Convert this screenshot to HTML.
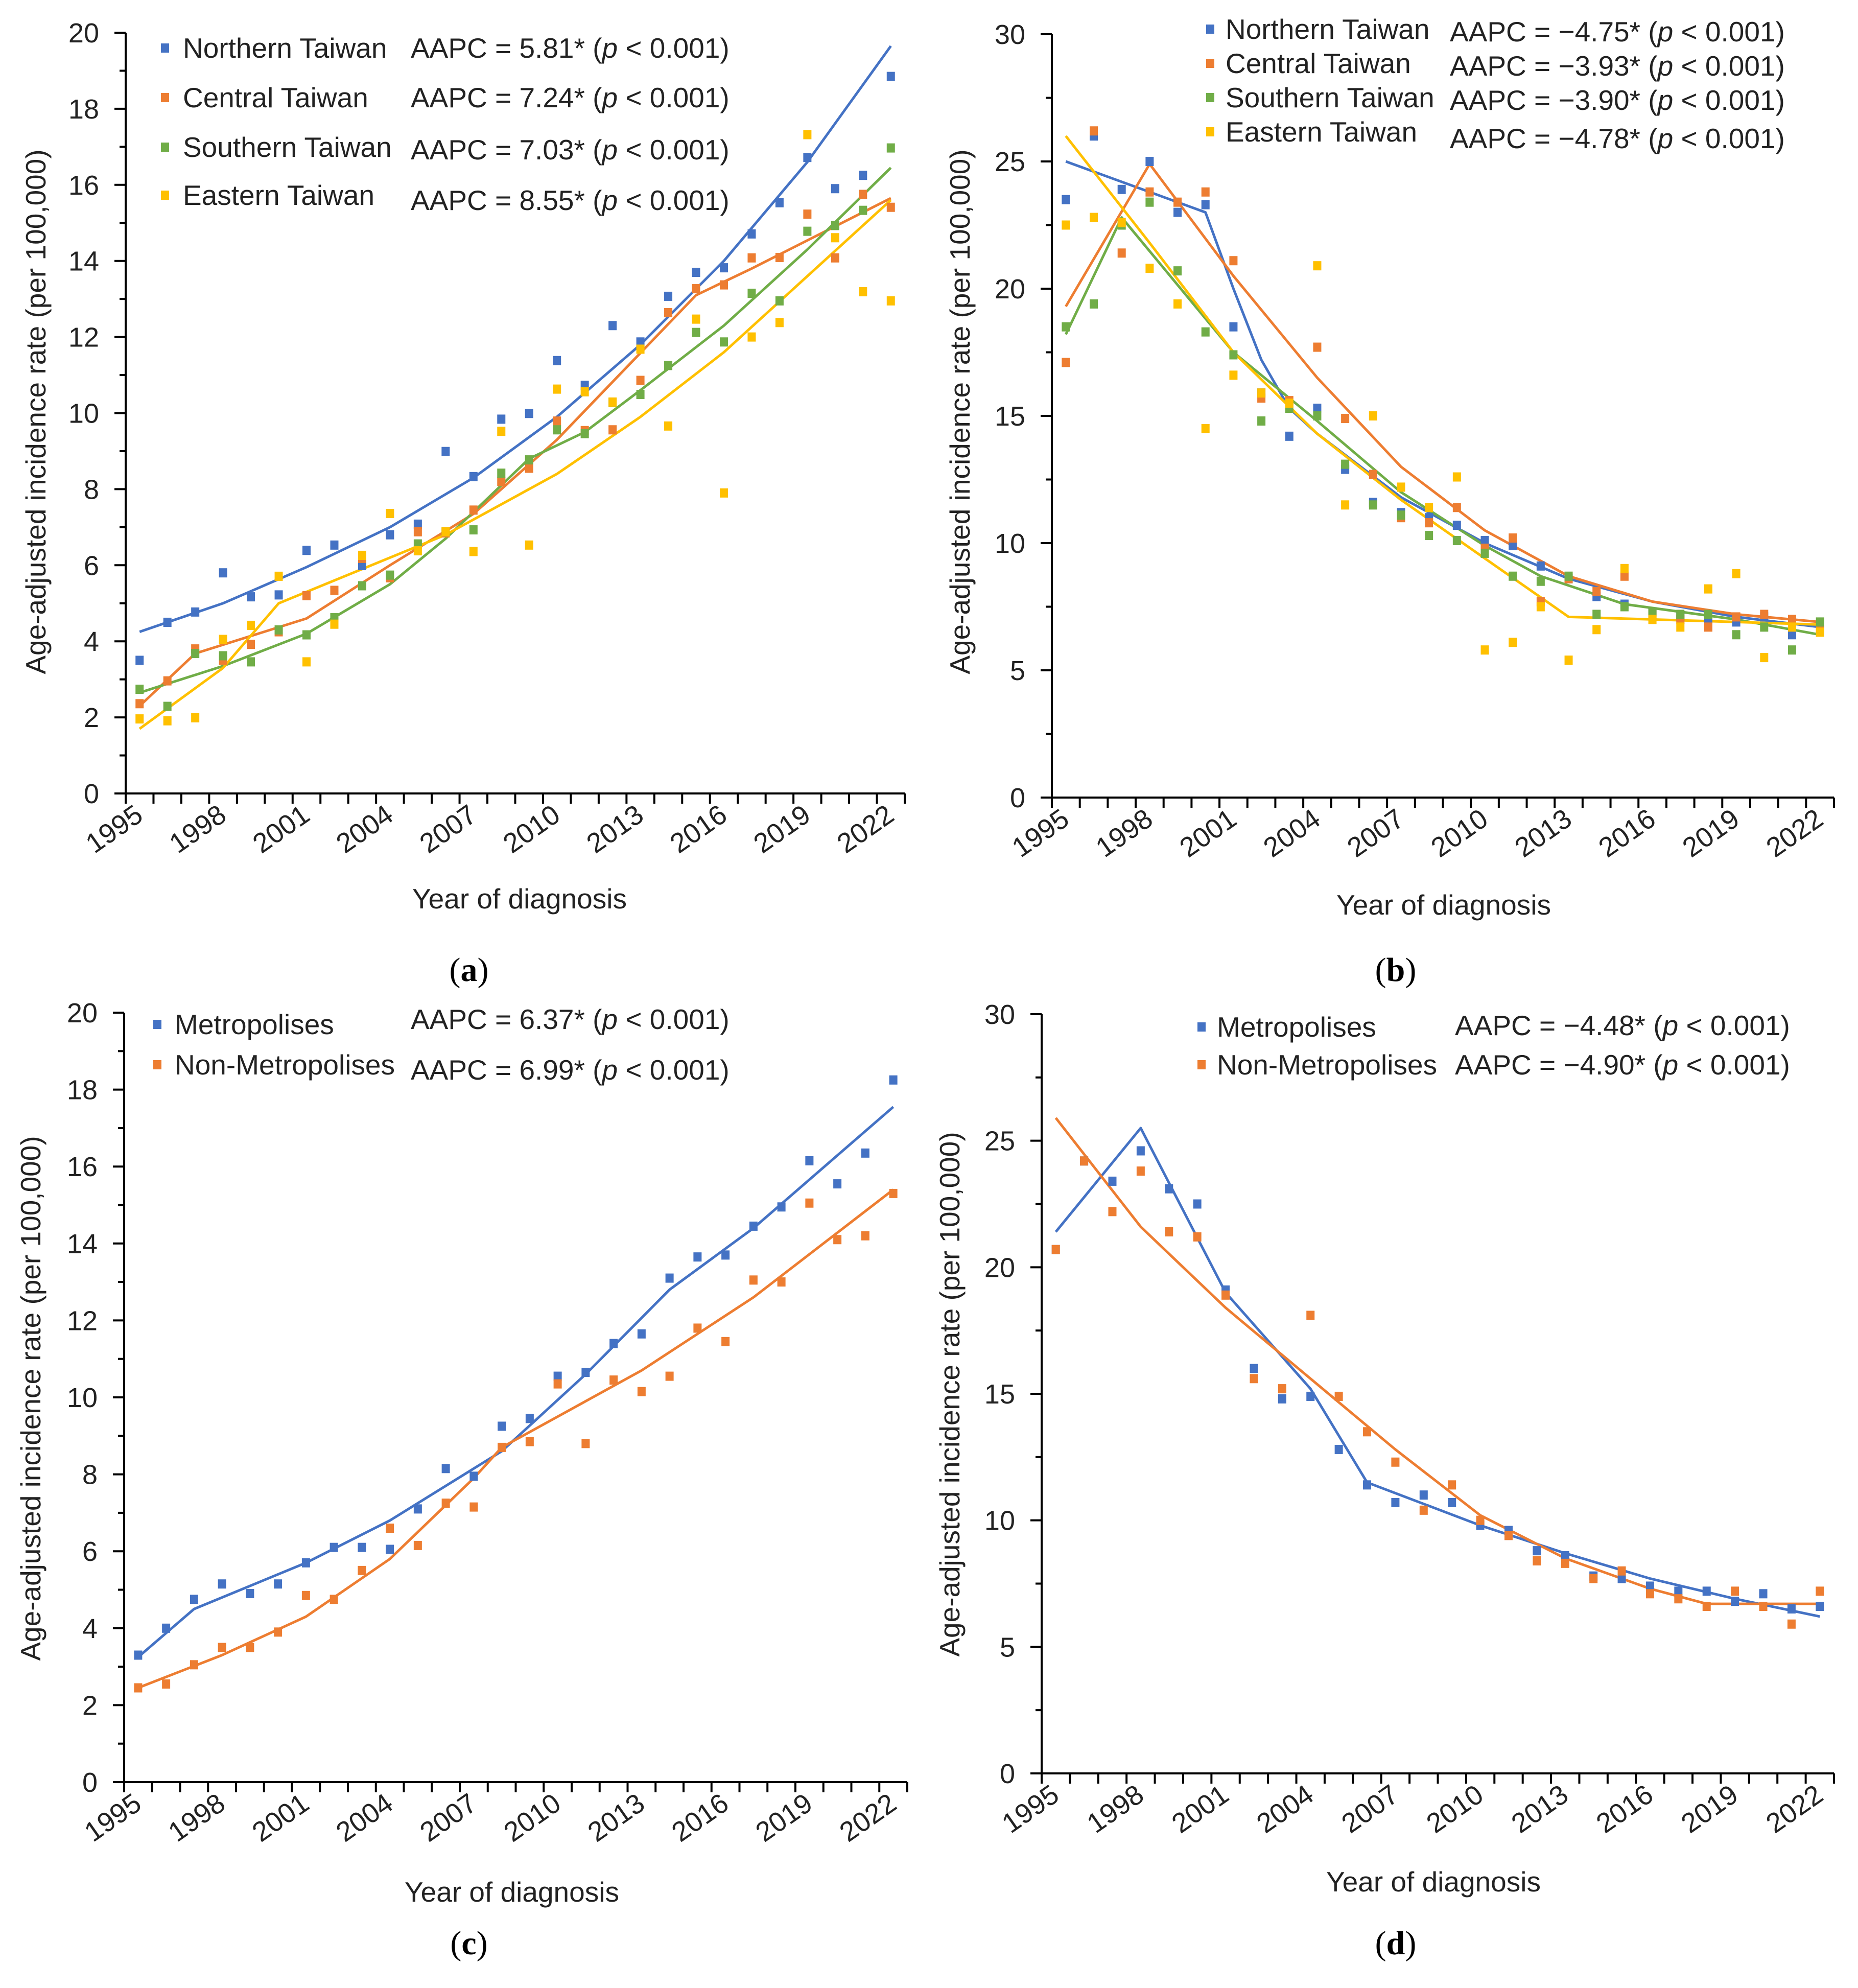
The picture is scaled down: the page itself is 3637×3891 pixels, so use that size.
<!DOCTYPE html>
<html><head><meta charset="utf-8"><style>
html,body{margin:0;padding:0;background:#fff;}
svg{display:block;font-family:"Liberation Sans",sans-serif;}
</style></head><body>
<svg id="chart" width="3637" height="3891" viewBox="0 0 3637 3891" xmlns="http://www.w3.org/2000/svg"></svg>
<script>
const years=[];for(let y=1995;y<=2022;y++)years.push(y);
const yearTickLabels=['1995','1998','2001','2004','2007','2010','2013','2016','2019','2022'];
// Panel a
const aNorth=[3.5,4.5,4.77,5.8,5.17,5.22,6.39,6.53,5.99,6.8,7.08,8.99,8.33,9.84,9.99,11.38,10.73,12.3,11.87,13.07,13.7,13.82,14.71,15.53,16.72,15.9,16.25,18.85];
const aCentral=[2.36,2.96,3.8,3.5,3.92,4.25,5.2,5.34,6.18,5.67,6.88,6.85,7.45,8.2,8.55,9.79,9.54,9.56,10.86,12.64,13.27,13.37,14.08,14.09,15.23,14.08,15.75,15.41];
const aSouth=[2.74,2.29,3.68,3.62,3.46,4.3,4.17,4.62,5.46,5.74,6.56,6.88,6.93,8.42,8.77,9.56,9.46,10.28,10.49,11.25,12.12,11.87,13.15,12.95,14.78,14.93,15.33,16.97];
const aEast=[1.96,1.91,1.99,4.05,4.42,5.71,3.46,4.45,6.26,7.36,6.38,6.88,6.36,9.52,6.53,10.63,10.56,10.29,11.68,9.66,12.47,7.9,12.0,12.38,17.32,14.61,13.19,12.95];
const aNorthFitYears=[1995,1998,2001,2004,2007,2010,2013,2016,2019,2022];
const aNorthFit=[4.25,5.0,5.95,7.0,8.3,9.9,11.8,14.0,16.6,19.65];
const aCentralFitYears=[1995,1997,2001,2004,2007,2010,2015,2017,2022];
const aCentralFit=[2.3,3.68,4.6,6.0,7.35,9.3,13.1,13.8,15.65];
const aSouthFitYears=[1995,1998,2001,2004,2006,2009,2011,2013,2016,2019,2022];
const aSouthFit=[2.65,3.35,4.2,5.5,6.7,8.8,9.5,10.6,12.3,14.3,16.45];
const aEastFitYears=[1995,1998,2000,2004,2006,2010,2013,2016,2019,2022];
const aEastFit=[1.7,3.3,5.0,6.2,6.8,8.4,9.9,11.6,13.6,15.6];
// Panel b
const bNorth=[23.5,26.0,23.9,25.0,23.0,23.3,18.5,15.9,14.2,15.3,12.9,11.6,11.2,11.0,10.7,10.1,9.9,9.1,8.6,7.9,7.6,7.3,7.1,7.0,6.9,7.1,6.4,6.6];
const bCentral=[17.1,26.2,21.4,23.8,23.4,23.8,21.1,15.7,15.6,17.7,14.9,12.7,11.0,10.8,11.4,9.8,10.2,7.7,8.6,8.1,8.7,7.2,7.0,6.7,7.1,7.2,7.0,6.6];
const bSouth=[18.5,19.4,22.5,23.4,20.7,18.3,17.4,14.8,15.3,15.0,13.1,11.5,11.1,10.3,10.1,9.6,8.7,8.5,8.7,7.2,7.5,7.3,7.2,7.2,6.4,6.7,5.8,6.9];
const bEast=[22.5,22.8,22.6,20.8,19.4,14.5,16.6,15.9,15.5,20.9,11.5,15.0,12.2,11.4,12.6,5.8,6.1,7.5,5.4,6.6,9.0,7.0,6.7,8.2,8.8,5.5,6.7,6.5];
const bNorthFitYears=[1995,2000,2001,2002,2003,2004,2007,2010,2013,2016,2019,2022];
const bNorthFit=[25.0,23.0,20.0,17.2,15.3,14.3,11.8,10.0,8.6,7.7,7.1,6.7];
const bCentralFitYears=[1995,1998,2001,2004,2007,2010,2013,2016,2019,2022];
const bCentralFit=[19.3,24.9,20.5,16.5,13.0,10.5,8.7,7.7,7.2,6.9];
const bSouthFitYears=[1995,1997,2001,2004,2007,2010,2012,2015,2019,2022];
const bSouthFit=[18.2,22.8,17.5,14.8,12.0,9.9,8.7,7.6,7.0,6.4];
const bEastFitYears=[1995,1998,2001,2004,2007,2010,2013,2016,2019,2022];
const bEastFit=[26.0,21.8,17.5,14.3,11.7,9.4,7.1,7.0,6.9,6.8];
// Panel c
const cMetro=[3.3,4.0,4.75,5.15,4.9,5.15,5.7,6.1,6.1,6.05,7.1,8.15,7.95,9.25,9.45,10.55,10.65,11.4,11.65,13.1,13.65,13.7,14.45,14.95,16.15,15.55,16.35,18.25];
const cNonMetro=[2.45,2.55,3.05,3.5,3.5,3.9,4.85,4.75,5.5,6.6,6.15,7.25,7.15,8.7,8.85,10.35,8.8,10.45,10.15,10.55,11.8,11.45,13.05,13.0,15.05,14.1,14.2,15.3];
const cMetroFitYears=[1995,1997,2001,2004,2008,2011,2014,2017,2022];
const cMetroFit=[3.25,4.5,5.7,6.8,8.6,10.6,12.8,14.4,17.55];
const cNonMetroFitYears=[1995,1998,2001,2004,2007,2008,2013,2017,2022];
const cNonMetroFit=[2.45,3.3,4.3,5.8,7.9,8.7,10.7,12.6,15.4];
// Panel d
const dMetro=[20.7,24.2,23.4,24.6,23.1,22.5,19.1,16.0,14.8,14.9,12.8,11.4,10.7,11.0,10.7,9.8,9.6,8.8,8.6,7.8,7.7,7.4,7.2,7.2,6.8,7.1,6.5,6.6];
const dNonMetro=[20.7,24.2,22.2,23.8,21.4,21.2,18.9,15.6,15.2,18.1,14.9,13.5,12.3,10.4,11.4,10.0,9.4,8.4,8.3,7.7,8.0,7.1,6.9,6.6,7.2,6.6,5.9,7.2];
const dMetroFitYears=[1995,1998,2001,2004,2006,2010,2013,2016,2019,2022];
const dMetroFit=[21.4,25.5,19.0,15.2,11.5,9.8,8.7,7.7,6.9,6.2];
const dNonMetroFitYears=[1995,1998,2001,2004,2007,2010,2013,2016,2018,2022];
const dNonMetroFit=[25.9,21.6,18.4,15.6,12.8,10.2,8.5,7.3,6.7,6.7];

const NS='http://www.w3.org/2000/svg';
const svg=document.getElementById('chart');
function mk(tag,attrs,parent){const e=document.createElementNS(NS,tag);for(const k in attrs)e.setAttribute(k,attrs[k]);(parent||svg).appendChild(e);return e;}
const C={blue:'#4472C4',orange:'#ED7D31',green:'#70AD47',yellow:'#FFC000'};

function panel(p){
  const g=mk('g',{});
  
  
  const n=years.length, slot=(p.x1-p.x0)/n;
  const xs=yr=>p.x0+slot*(yr-1995+0.5);
  const ys=v=>p.y0-(v/p.ymax)*(p.y0-p.ytop);
  const ya=mk('line',{x1:p.x0,y1:p.ytop,x2:p.x0,y2:p.y0,stroke:'#000','stroke-width':4},g);
  
  
  const xa=mk('line',{x1:p.x0,y1:p.y0,x2:p.x1,y2:p.y0,stroke:'#000','stroke-width':4},g);
  
  
  for(let v=0;v<=p.ymax;v+=p.step/2){
    const major=Math.abs(v/p.step-Math.round(v/p.step))<1e-6;
    mk('line',{x1:p.x0-(major?22:12),y1:ys(v),x2:p.x0,y2:ys(v),stroke:'#000','stroke-width':4},g);
    if(major){const t=mk('text',{x:p.x0-52,y:ys(v)+19,'text-anchor':'end','font-size':54,fill:'#222'},g);t.textContent=String(v);
      
      }
  }
  for(let i=0;i<=n;i++){const x=p.x0+slot*i;mk('line',{x1:x,y1:p.y0,x2:x,y2:p.y0+20,stroke:'#000','stroke-width':4},g);}
  yearTickLabels.forEach(lab=>{const x=xs(+lab)+10,y=p.y0+50;
    const t=mk('text',{x:x,y:y,'text-anchor':'end','font-size':54,fill:'#222',transform:`rotate(-35 ${x} ${y})`},g);t.textContent=lab;
    
    });
  const yt=mk('text',{x:p.ytx,y:p.yty,'text-anchor':'middle','font-size':55,fill:'#222',transform:`rotate(-90 ${p.ytx} ${p.yty})`},g);
  yt.textContent='Age-adjusted incidence rate (per 100,000)';
  
  
  const xt=mk('text',{x:p.xtx,y:p.xty,'text-anchor':'middle','font-size':55,fill:'#222'},g);
  xt.textContent='Year of diagnosis';
  
  
  const sl=mk('text',{x:p.slx,y:p.sly,'text-anchor':'middle','font-size':66,fill:'#000','font-family':'Liberation Serif, serif'},g);
  sl.innerHTML='(<tspan font-weight="bold">'+p.letter+'</tspan>)';
  
  
  p.series.forEach(s=>{
    const pts=s.fitYears.map((yr,i)=>xs(yr).toFixed(1)+','+ys(s.fit[i]).toFixed(1)).join(' ');
    const pl=mk('polyline',{points:pts,fill:'none',stroke:s.color,'stroke-width':5,'stroke-linejoin':'round'},g);
    
    
  });
  p.series.forEach(s=>{
    s.vals.forEach((v,i)=>{const r=mk('rect',{x:xs(years[i])-8,y:ys(v)-9,width:16,height:18,fill:s.color},g);
      
      });
  });
  p.series.forEach((s,i)=>{
    const ly=p.leg.rows[i];
    const r=mk('rect',{x:p.leg.mx-8,y:ly-9,width:16,height:18,fill:s.color},g);
    
    
    const t=mk('text',{x:p.leg.tx,y:ly+19,'font-size':55,fill:'#222'},g);t.textContent=s.label;
    
    
    const a=mk('text',{x:p.leg.ax,y:p.leg.arows[i]+19,'font-size':55,fill:'#222'},g);
    a.innerHTML='AAPC = '+s.aapc+'* (<tspan font-style="italic">p</tspan> &lt; 0.001)';
    
    
  });
}

panel({name:'panel-a',letter:'a',x0:246,x1:1771,y0:1553,ytop:64,ymax:20,step:2,ytx:89,yty:806,xtx:1017,xty:1778,slx:918,sly:1920,
  leg:{mx:323,tx:358,ax:804,rows:[94,191,288,382],arows:[94,191,293,392]},
  series:[
   {key:'northern',label:'Northern Taiwan',aapc:'5.81',color:C.blue,vals:aNorth,fitYears:aNorthFitYears,fit:aNorthFit},
   {key:'central',label:'Central Taiwan',aapc:'7.24',color:C.orange,vals:aCentral,fitYears:aCentralFitYears,fit:aCentralFit},
   {key:'southern',label:'Southern Taiwan',aapc:'7.03',color:C.green,vals:aSouth,fitYears:aSouthFitYears,fit:aSouthFit},
   {key:'eastern',label:'Eastern Taiwan',aapc:'8.55',color:C.yellow,vals:aEast,fitYears:aEastFitYears,fit:aEastFit}]});
panel({name:'panel-b',letter:'b',x0:2059,x1:3590,y0:1561,ytop:67,ymax:30,step:5,ytx:1898,yty:806,xtx:2826,xty:1790,slx:2732,sly:1920,
  leg:{mx:2369,tx:2399,ax:2838,rows:[57,124,191,258],arows:[62,129,196,271]},
  series:[
   {key:'northern',label:'Northern Taiwan',aapc:'\u22124.75',color:C.blue,vals:bNorth,fitYears:bNorthFitYears,fit:bNorthFit},
   {key:'central',label:'Central Taiwan',aapc:'\u22123.93',color:C.orange,vals:bCentral,fitYears:bCentralFitYears,fit:bCentralFit},
   {key:'southern',label:'Southern Taiwan',aapc:'\u22123.90',color:C.green,vals:bSouth,fitYears:bSouthFitYears,fit:bSouthFit},
   {key:'eastern',label:'Eastern Taiwan',aapc:'\u22124.78',color:C.yellow,vals:bEast,fitYears:bEastFitYears,fit:bEastFit}]});
panel({name:'panel-c',letter:'c',x0:243,x1:1776,y0:3488,ytop:1982,ymax:20,step:2,ytx:79,yty:2737,xtx:1002,xty:3722,slx:918,sly:3825,
  leg:{mx:308,tx:342,ax:804,rows:[2005,2084],arows:[1995,2094]},
  series:[
   {key:'metropolises',label:'Metropolises',aapc:'6.37',color:C.blue,vals:cMetro,fitYears:cMetroFitYears,fit:cMetroFit},
   {key:'non-metropolises',label:'Non-Metropolises',aapc:'6.99',color:C.orange,vals:cNonMetro,fitYears:cNonMetroFitYears,fit:cNonMetroFit}]});
panel({name:'panel-d',letter:'d',x0:2039,x1:3590,y0:3471,ytop:1985,ymax:30,step:5,ytx:1878,yty:2729,xtx:2806,xty:3702,slx:2732,sly:3825,
  leg:{mx:2352,tx:2382,ax:2848,rows:[2010,2084],arows:[2007,2084]},
  series:[
   {key:'metropolises',label:'Metropolises',aapc:'\u22124.48',color:C.blue,vals:dMetro,fitYears:dMetroFitYears,fit:dMetroFit},
   {key:'non-metropolises',label:'Non-Metropolises',aapc:'\u22124.90',color:C.orange,vals:dNonMetro,fitYears:dNonMetroFitYears,fit:dNonMetroFit}]});
</script>
</body></html>
